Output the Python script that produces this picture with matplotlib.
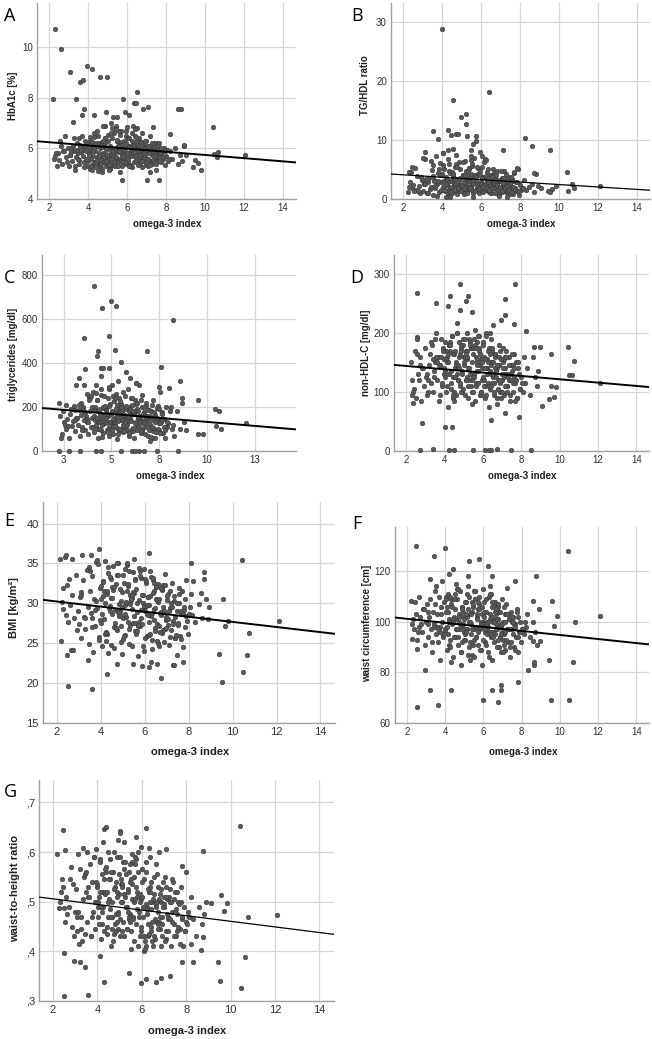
import numpy as np
import matplotlib.pyplot as plt

plt.rcParams['font.family'] = ['Liberation Sans', 'DejaVu Sans']

W, H = 652, 1039

# omega-3 index of the bulk of subjects (rows of ten)
omega3 = [
    2.25, 2.4, 2.45, 2.5, 2.6, 2.65, 2.7, 2.8, 2.85, 2.95,
    3.0, 3.05, 3.1, 3.2, 3.25, 3.3, 3.35, 3.4, 3.45, 3.5,
    3.55, 3.6, 3.65, 3.7, 3.75, 3.8, 3.85, 3.9, 3.95, 3.98,
    4.0, 4.05, 4.1, 4.15, 4.2, 4.25, 4.3, 4.35, 4.4, 4.45,
    4.02, 4.12, 4.22, 4.32, 4.5, 4.55, 4.6, 4.65, 4.7, 4.75,
    4.8, 4.85, 4.9, 4.95, 4.52, 4.62, 4.72, 4.82, 4.92, 4.98,
    5.0, 5.05, 5.1, 5.15, 5.2, 5.25, 5.3, 5.35, 5.4, 5.45,
    5.02, 5.12, 5.22, 5.32, 5.42, 5.5, 5.55, 5.6, 5.65, 5.7,
    5.75, 5.8, 5.85, 5.9, 5.95, 5.52, 5.62, 5.72, 5.82, 5.92,
    6.0, 6.05, 6.1, 6.15, 6.2, 6.25, 6.3, 6.35, 6.4, 6.45,
    6.02, 6.12, 6.22, 6.32, 6.42, 6.5, 6.55, 6.6, 6.65, 6.7,
    6.75, 6.8, 6.85, 6.9, 6.95, 6.52, 6.62, 6.72, 6.82, 6.92,
    7.0, 7.05, 7.1, 7.15, 7.2, 7.25, 7.3, 7.35, 7.4, 7.45,
    7.5, 7.55, 7.6, 7.65, 7.7, 7.75, 7.8, 7.85, 7.9, 7.95,
    4.08, 4.38, 4.68, 5.08, 5.38, 5.68, 6.08, 6.38, 6.68, 7.02,
    3.08, 3.58, 3.88, 4.28, 4.58, 4.88, 5.18, 5.48, 5.78, 5.98,
    6.18, 6.48, 6.78, 6.98, 7.18, 7.38, 7.58, 7.78, 8.0, 8.1,
    8.2, 8.3, 8.45, 8.6, 8.7, 8.8, 8.9, 2.35, 2.75, 3.15,
    4.18, 4.48, 4.78, 5.28, 5.58, 5.88, 6.28, 6.58, 6.88, 7.28,
    3.42, 3.72, 4.42, 4.88, 5.48, 6.18, 6.62, 7.08, 7.48, 8.05,
    2.3, 2.55, 2.9, 3.12, 3.28, 3.48, 3.62, 3.78, 3.93, 4.03,
    4.07, 4.13, 4.23, 4.33, 4.43, 4.47, 4.53, 4.63, 4.73, 4.83,
    4.87, 4.93, 4.97, 5.03, 5.07, 5.13, 5.17, 5.23, 5.27, 5.33,
    5.37, 5.43, 5.47, 5.53, 5.57, 5.63, 5.67, 5.73, 5.77, 5.83,
    5.87, 5.93, 5.97, 6.03, 6.07, 6.13, 6.17, 6.23, 6.27, 6.33,
    6.37, 6.43, 6.47, 6.53, 6.57, 6.63, 6.67, 6.73, 6.77, 6.83,
    6.87, 6.93, 6.97, 7.03, 7.07, 7.13, 7.17, 7.23, 7.27, 7.33,
    7.37, 7.43, 7.47, 7.53, 7.57, 7.63, 7.67, 7.73, 7.83, 7.93,
    3.52, 3.83, 4.27, 4.57, 4.77, 5.18, 5.58, 5.96, 6.36, 6.76,
    4.17, 4.67, 5.11, 5.41, 5.71, 6.11, 6.41, 6.71, 7.11, 8.15,
]

# A: HbA1c [%]
hba1c = [
    5.6, 5.3, 5.8, 5.55, 6.1, 5.4, 5.9, 6.5, 5.65, 6.0,
    5.3, 5.75, 6.0, 6.1, 5.9, 5.3, 5.65, 6.2, 5.8, 5.4,
    5.55, 6.15, 5.85, 6.5, 6.0, 5.45, 6.3, 5.9, 5.3, 6.1,
    5.5, 5.8, 6.3, 5.95, 5.35, 5.7, 6.6, 5.9, 6.1, 5.65,
    6.05, 5.6, 6.15, 5.45, 6.5, 5.4, 6.0, 5.55, 6.25, 5.8,
    5.45, 6.4, 5.95, 6.0, 6.2, 5.3, 5.2, 6.1, 5.3, 5.6,
    5.4, 5.75, 6.1, 5.9, 5.5, 5.7, 5.35, 5.85, 5.55, 5.95,
    6.3, 5.25, 6.4, 6.6, 6.9, 5.5, 5.45, 5.85, 5.6, 6.0,
    5.75, 5.5, 5.9, 5.65, 5.4, 6.1, 6.25, 5.3, 6.3, 6.5,
    5.8, 5.5, 6.1, 5.75, 5.95, 6.3, 5.85, 5.45, 5.7, 6.0,
    6.4, 5.35, 5.25, 6.15, 6.5, 5.9, 5.55, 5.8, 5.4, 6.0,
    6.6, 5.85, 5.5, 6.05, 5.35, 6.8, 6.2, 5.65, 6.2, 5.7,
    5.6, 5.3, 5.85, 5.5, 6.0, 5.75, 6.15, 5.9, 5.6, 6.0,
    5.75, 6.2, 5.5, 6.2, 5.7, 5.45, 5.85, 5.6, 6.0, 5.35,
    5.2, 5.45, 5.75, 5.6, 5.3, 6.7, 6.05, 6.15, 5.9, 6.1,
    5.75, 6.05, 5.6, 6.0, 5.3, 6.9, 7.0, 6.3, 5.55, 6.85,
    5.95, 6.3, 6.0, 6.3, 6.5, 6.2, 5.9, 5.85, 5.7, 5.5,
    5.9, 5.6, 6.0, 5.4, 5.75, 5.5, 6.1, 5.8, 5.9, 5.5,
    5.15, 5.1, 6.9, 5.8, 6.7, 6.0, 6.9, 5.65, 5.9, 5.4,
    5.95, 5.7, 5.25, 6.4, 6.3, 5.95, 6.4, 5.95, 5.65, 5.95,
    5.7, 6.3, 5.45, 5.85, 6.4, 5.6, 5.95, 5.25, 6.2, 5.75,
    6.45, 5.3, 5.9, 6.2, 5.55, 6.7, 5.8, 5.4, 6.05, 5.65,
    6.2, 5.5, 5.75, 6.55, 5.35, 6.05, 5.6, 6.8, 5.9, 5.45,
    6.0, 5.65, 6.35, 5.3, 5.9, 6.55, 5.5, 6.15, 5.7, 5.95,
    5.45, 6.2, 5.8, 5.6, 6.4, 5.3, 6.0, 5.7, 6.6, 5.85,
    6.1, 5.55, 6.45, 5.9, 5.35, 6.05, 5.75, 6.25, 5.5, 6.0,
    5.8, 6.3, 5.45, 5.95, 5.6, 6.1, 5.35, 5.85, 6.2, 5.55,
    6.05, 5.7, 5.4, 5.95, 6.1, 5.5, 5.8, 6.0, 5.65, 5.9,
    6.4, 6.1, 6.45, 5.7, 6.3, 6.6, 6.1, 6.7, 6.0, 5.25,
    6.25, 6.15, 5.2, 6.75, 5.45, 5.3, 6.75, 6.1, 5.8, 5.6,
]
hba1c_extra = [
    (2.29, 10.73), (2.58, 9.94), (3.04, 9.04), (3.95, 9.25), (4.17, 9.15),
    (4.6, 8.83), (4.94, 8.83), (3.57, 8.64), (3.74, 8.72), (2.17, 7.96),
    (3.35, 7.96), (5.76, 7.96), (6.51, 8.23), (6.36, 7.8), (6.44, 7.8),
    (3.78, 7.56), (7.09, 7.64), (6.82, 7.54), (8.62, 7.54), (8.75, 7.54),
    (3.66, 7.34), (4.27, 7.34), (3.23, 7.03), (4.9, 7.44), (5.28, 7.25),
    (5.49, 7.25), (5.88, 7.44), (6.09, 7.34), (8.22, 6.56), (10.38, 6.85),
    (7.3, 6.85), (12.03, 5.74), (10.67, 5.85), (10.62, 5.66), (10.46, 5.77),
    (9.37, 5.27), (9.47, 5.53), (9.64, 5.42), (9.78, 5.13), (9.04, 5.75),
    (8.92, 6.15), (5.73, 4.75), (6.99, 4.75), (7.62, 4.75), (5.64, 5.06),
    (4.7, 5.06), (5.04, 5.16), (7.16, 5.06), (7.47, 5.16), (3.33, 5.16),
]
hba1c_fit = (6.37, -0.063)

# B: TG/HDL ratio
tg_hdl = [
    1.2, 4.6, 1.8, 2.4, 5.3, 1.5, 3.9, 2.2, 1.0, 3.2,
    1.4, 2.6, 6.8, 1.1, 2.9, 3.5, 1.7, 6.4, 2.1, 5.8,
    0.6, 3.3, 1.9, 7.2, 2.6, 4.4, 1.2, 6.1, 2.8, 1.6,
    4.2, 2.0, 5.1, 1.3, 3.7, 2.4, 0.5, 4.8, 1.8, 3.1,
    7.8, 1.6, 2.9, 6.7, 1.1, 3.8, 2.3, 5.5, 1.4, 0.8,
    3.4, 6.2, 2.0, 1.3, 4.6, 2.7, 5.9, 1.7, 3.6, 2.2,
    1.5, 4.1, 2.6, 6.5, 1.0, 3.3, 2.0, 5.2, 1.8, 3.9,
    2.4, 0.9, 4.7, 1.6, 3.0, 2.2, 5.6, 1.3, 7.0, 2.8,
    3.6, 1.9, 4.3, 1.1, 2.5, 6.0, 3.1, 1.5, 5.2, 2.0,
    2.9, 1.4, 3.8, 2.2, 6.8, 1.7, 4.5, 2.6, 1.2, 3.3,
    5.4, 2.0, 1.5, 3.1, 2.4, 1.0, 4.0, 2.7, 1.8, 3.6,
    2.3, 4.8, 1.6, 3.0, 1.2, 2.1, 5.0, 1.9, 2.8, 0.7,
    1.8, 3.5, 2.4, 4.7, 1.3, 2.9, 1.0, 3.8, 2.0, 1.5,
    2.6, 1.2, 3.4, 0.8, 4.4, 1.9, 2.8, 1.4, 5.1, 0.6,
    3.0, 4.4, 2.2, 3.9, 5.0, 3.2, 2.5, 4.1, 3.4, 2.1,
    2.7, 3.1, 4.0, 1.0, 3.5, 2.3, 1.7, 4.3, 2.6, 1.9,
    3.7, 1.1, 2.5, 1.7, 2.2, 0.9, 3.1, 1.6, 2.4, 1.8,
    3.2, 1.5, 2.0, 2.6, 1.2, 4.3, 2.2, 2.8, 1.3, 3.4,
    0.4, 1.9, 2.3, 3.7, 1.1, 2.5, 1.9, 3.0, 0.9, 2.4,
    2.1, 0.5, 1.4, 3.3, 2.2, 1.5, 2.7, 1.2, 0.8, 1.6,
    2.0, 1.3, 3.7, 2.5, 1.1, 4.9, 2.2, 3.0, 1.6, 5.7,
    2.8, 1.5, 3.4, 6.0, 2.0, 1.2, 4.2, 2.6, 7.4, 1.8,
    3.3, 5.0, 1.4, 2.3, 6.3, 1.9, 3.6, 2.7, 1.0, 4.5,
    2.1, 3.0, 6.6, 1.6, 2.5, 4.0, 1.3, 3.2, 5.5, 2.0,
    1.7, 4.1, 2.6, 3.5, 1.2, 6.2, 2.3, 1.8, 3.9, 2.9,
    5.1, 1.4, 2.2, 3.7, 1.9, 2.7, 4.4, 1.1, 3.0, 2.4,
    1.6, 3.3, 2.0, 4.8, 1.3, 2.6, 3.6, 1.8, 4.2, 2.2,
    3.0, 1.5, 2.5, 3.8, 1.2, 2.1, 4.5, 1.7, 2.9, 1.4,
    3.9, 5.1, 2.8, 4.3, 5.4, 4.0, 3.3, 4.7, 3.6, 4.1,
    2.6, 3.4, 2.8, 1.9, 3.7, 2.0, 1.5, 3.3, 2.7, 1.8,
]
tg_hdl_extra = [
    (4.01, 28.8), (6.4, 18.05), (4.53, 16.7), (5.24, 14.35), (5.21, 12.77),
    (4.95, 13.95), (3.54, 11.47), (3.77, 10.17), (4.3, 11.75), (4.44, 10.9),
    (4.73, 11.07), (4.83, 10.95), (5.29, 10.62), (5.75, 10.62), (5.72, 9.77),
    (5.58, 9.38), (8.23, 10.34), (8.59, 8.93), (9.54, 8.36), (7.14, 8.36),
    (3.13, 7.97), (3.02, 6.89), (4.05, 7.8), (4.27, 8.25), (4.53, 8.47),
    (5.5, 8.25), (5.48, 7.23), (5.92, 7.9), (6.06, 7.23), (6.23, 6.55),
    (10.4, 4.63), (10.45, 1.36), (10.67, 2.54), (10.74, 1.86), (12.09, 2.2),
    (9.82, 2.15), (9.65, 1.7), (9.44, 1.3), (9.51, 1.19), (9.05, 1.9),
    (8.69, 4.41), (2.31, 4.58), (2.44, 5.42), (7.85, 5.25), (4.4, 0.3),
    (5.6, 0.4), (7.3, 0.35), (6.9, 0.5),
]
tg_hdl_fit = (4.51, -0.206)

# C: triglycerides [mg/dl]
trig = [
    220, 75, 180, 130, 100, 210, 145, 60, 170, 115,
    135, 205, 90, 150, 120, 185, 70, 165, 110, 200,
    300, 95, 160, 260, 130, 75, 245, 180, 110, 200,
    150, 270, 85, 190, 120, 230, 60, 175, 140, 255,
    110, 200, 300, 135, 165, 80, 250, 125, 190, 95,
    160, 280, 110, 215, 65, 140, 185, 240, 100, 170,
    130, 180, 75, 225, 150, 260, 105, 195, 90, 170,
    300, 120, 175, 55, 240, 145, 200, 85, 160, 110,
    190, 135, 280, 70, 165, 215, 120, 250, 95, 180,
    145, 205, 100, 170, 60, 230, 130, 190, 115, 160,
    240, 90, 180, 120, 300, 150, 80, 200, 135, 175,
    110, 220, 155, 70, 185, 130, 95, 165, 205, 140,
    120, 180, 60, 150, 230, 100, 165, 85, 140, 205,
    95, 270, 130, 175, 80, 145, 60, 200, 110, 125,
    160, 130, 200, 115, 175, 90, 210, 150, 125, 45,
    185, 140, 240, 100, 160, 290, 125, 200, 150, 85,
    170, 105, 130, 155, 90, 195, 140, 110, 285, 200,
    120, 70, 180, 100, 240, 130, 95, 60, 115, 150,
    265, 95, 130, 210, 175, 135, 310, 100, 160, 60,
    220, 145, 190, 70, 100, 170, 255, 65, 125, 180,
    160, 120, 190, 140, 210, 95, 175, 130, 250, 105,
    185, 140, 230, 100, 165, 280, 120, 195, 150, 85,
    205, 130, 170, 95, 250, 145, 115, 190, 160, 75,
    135, 225, 100, 180, 140, 270, 90, 165, 205, 120,
    155, 80, 190, 135, 240, 105, 175, 125, 215, 95,
    180, 110, 150, 230, 90, 170, 130, 200, 75, 155,
    120, 185, 95, 160, 140, 210, 105, 175, 130, 85,
    150, 100, 190, 125, 80, 170, 140, 110, 95, 130,
    185, 230, 150, 200, 170, 240, 140, 190, 220, 160,
    120, 205, 145, 170, 130, 180, 155, 125, 110, 100,
]
trig_extra = [
    (4.07, 750), (4.97, 680), (4.52, 650), (5.25, 659), (8.2, 595),
    (3.58, 515), (4.85, 524), (4.31, 456), (4.27, 433), (5.21, 459),
    (6.88, 452), (5.49, 406), (7.61, 383), (3.6, 374), (4.45, 377),
    (4.55, 377), (4.9, 377), (5.77, 360), (8.59, 320), (9.54, 232),
    (10.41, 192), (10.64, 183), (12.07, 126), (10.45, 114), (10.71, 100),
    (9.51, 76), (9.8, 76), (8.67, 220), (3.28, 333), (3.16, 300),
    (4.45, 340), (5.35, 320), (6.0, 330), (6.3, 310), (7.5, 290),
    (2.24, 0), (2.76, 0), (3.37, 0), (4.2, 0), (4.45, 0), (5.49, 0),
    (6.07, 0), (6.24, 0), (6.42, 0), (6.71, 0), (7.37, 0), (8.5, 0),
]
trig_fit = (205.0, -7.29)

# D: non-HDL-C [mg/dl]
nonhdl = [
    150, 105, 170, 90, 130, 120, 160, 85, 140, 110,
    175, 125, 95, 145, 165, 115, 180, 100, 135, 150,
    200, 120, 160, 85, 145, 190, 110, 175, 130, 155,
    140, 185, 100, 160, 75, 130, 170, 115, 195, 90,
    125, 150, 180, 105, 165, 140, 95, 200, 120, 160,
    110, 175, 135, 190, 85, 150, 120, 165, 100, 180,
    145, 95, 170, 125, 155, 110, 190, 130, 175, 80,
    160, 120, 140, 185, 100, 165, 130, 205, 115, 150,
    135, 175, 95, 155, 120, 190, 110, 145, 170, 100,
    125, 160, 90, 200, 140, 115, 175, 105, 150, 130,
    185, 110, 155, 75, 145, 170, 125, 95, 160, 135,
    140, 120, 180, 100, 155, 130, 165, 90, 145, 115,
    120, 150, 95, 140, 170, 110, 130, 160, 85, 145,
    135, 100, 125, 165, 115, 150, 90, 140, 130, 105,
    170, 195, 140, 160, 175, 185, 110, 200, 135, 100,
    130, 160, 115, 185, 145, 100, 170, 125, 195, 155,
    140, 175, 105, 130, 160, 120, 145, 90, 125, 100,
    115, 140, 95, 160, 125, 110, 135, 100, 145, 120,
    165, 100, 140, 120, 180, 95, 150, 115, 170, 110,
    155, 145, 125, 180, 100, 195, 140, 155, 120, 115,
    120, 165, 140, 100, 185, 125, 150, 95, 170, 135,
    155, 110, 180, 135, 95, 165, 125, 200, 145, 115,
    170, 130, 105, 150, 190, 120, 160, 90, 140, 180,
    110, 150, 175, 125, 85, 160, 135, 195, 115, 145,
    165, 100, 140, 180, 120, 155, 95, 130, 170, 110,
    135, 190, 115, 150, 100, 165, 125, 80, 145, 160,
    120, 155, 90, 140, 175, 110, 130, 160, 100, 125,
    145, 95, 130, 165, 115, 140, 85, 120, 150, 105,
    190, 160, 180, 170, 185, 200, 175, 150, 165, 145,
    150, 130, 165, 120, 155, 140, 110, 135, 125, 160,
]
nonhdl_extra = [
    (2.57, 268), (4.83, 283), (7.7, 283), (4.31, 262), (5.22, 263),
    (5.11, 254), (3.57, 251), (4.21, 245), (7.17, 258), (7.17, 231),
    (6.96, 222), (4.8, 238), (5.46, 236), (4.66, 216), (7.65, 215),
    (6.52, 213), (2.56, 193), (2.56, 189), (10.43, 176), (10.77, 153),
    (10.49, 129), (10.66, 129), (12.09, 116), (9.53, 165), (9.57, 110),
    (9.83, 108), (9.7, 92), (9.1, 77), (9.44, 88), (8.96, 177),
    (8.66, 176), (2.82, 47), (4.03, 40), (4.38, 40), (6.43, 53),
    (7.88, 58), (7.13, 64), (2.75, 2), (3.39, 3), (4.23, 2),
    (4.49, 2), (5.51, 1), (6.09, 1), (6.3, 2), (6.43, 2),
    (6.73, 3), (7.48, 1), (8.52, 2), (2.3, 95), (2.35, 81), (8.26, 203),
]
nonhdl_fit = (149.7, -2.82)

# E: BMI [kg/m2]
bmi = [
    30.2, 28.5, 32.3, 27.6, 29.8, 24.2, 31.0, 28.2, 33.5, 29.0,
    27.4, 30.8, 25.6, 32.9, 28.3, 26.8, 34.2, 29.6, 24.9, 31.5,
    28.8, 33.4, 23.9, 30.6, 27.2, 35.2, 29.4, 25.8, 31.9, 27.9,
    30.5, 24.6, 32.8, 28.0, 35.3, 26.4, 31.2, 23.8, 29.7, 33.1,
    27.5, 30.9, 25.3, 34.6, 28.6, 31.7, 24.4, 29.2, 32.4, 26.7,
    35.0, 28.4, 30.3, 23.6, 32.0, 27.0, 33.6, 29.9, 25.1, 31.4,
    28.2, 32.6, 26.0, 30.1, 34.8, 27.7, 24.9, 31.1, 29.3, 33.9,
    25.5, 29.8, 32.2, 27.3, 30.7, 35.6, 26.5, 31.8, 28.9, 23.4,
    30.4, 27.1, 33.2, 24.7, 29.5, 31.3, 26.2, 34.4, 28.1, 30.0,
    29.1, 32.5, 25.9, 30.8, 27.6, 34.1, 28.4, 24.3, 31.6, 26.9,
    33.0, 28.7, 30.9, 25.4, 29.3, 32.1, 27.4, 30.2, 24.6, 28.8,
    31.9, 26.3, 29.6, 33.7, 27.9, 30.6, 25.0, 28.5, 32.3, 26.8,
    28.0, 31.2, 24.8, 29.4, 26.6, 32.6, 27.8, 30.3, 25.7, 29.0,
    27.3, 30.0, 25.9, 28.7, 31.6, 24.5, 29.2, 27.0, 28.4, 26.1,
    32.7, 29.4, 26.9, 34.3, 30.4, 27.1, 29.7, 32.9, 26.4, 30.9,
    31.0, 28.1, 34.9, 26.2, 32.1, 29.1, 31.5, 27.5, 33.4, 24.0,
    29.8, 26.5, 31.7, 28.3, 30.1, 25.6, 31.9, 29.5, 28.6, 31.2,
    32.8, 27.6, 29.9, 28.2, 33.0, 30.6, 28.0, 35.8, 24.2, 36.1,
    26.1, 30.7, 28.9, 34.0, 27.5, 31.1, 22.7, 30.4, 25.2, 22.3,
    22.9, 29.2, 33.3, 28.5, 22.4, 26.0, 32.4, 27.3, 23.5, 29.6,
    29.3, 33.0, 26.7, 31.4, 28.1, 34.5, 27.0, 30.3, 25.4, 32.2,
    28.6, 31.5, 26.3, 33.8, 29.0, 24.8, 30.7, 27.5, 35.1, 28.9,
    31.8, 27.2, 29.5, 33.5, 25.9, 30.2, 28.3, 32.4, 26.8, 29.9,
    30.6, 24.7, 31.4, 28.4, 33.1, 26.5, 30.0, 27.7, 34.0, 29.2,
    27.4, 31.0, 29.7, 25.6, 32.8, 28.5, 30.8, 26.2, 33.3, 28.8,
    31.3, 27.9, 29.4, 32.0, 25.3, 30.5, 27.2, 28.9, 31.8, 26.6,
    29.0, 32.3, 26.9, 30.4, 28.0, 31.5, 25.8, 29.6, 27.4, 30.9,
    28.3, 26.0, 30.1, 27.5, 31.2, 29.0, 25.5, 28.7, 30.5, 27.8,
    34.0, 35.4, 31.6, 34.7, 33.6, 35.0, 32.9, 34.3, 33.2, 31.9,
    30.0, 26.9, 28.6, 31.1, 27.3, 29.8, 32.5, 26.4, 29.1, 28.5,
]
bmi_extra = [
    (12.1, 27.8), (10.43, 35.47), (10.74, 26.24), (10.66, 23.55), (10.48, 21.4),
    (9.52, 20.1), (9.4, 23.7), (9.67, 27.2), (9.81, 27.8), (9.55, 30.5),
    (8.93, 29.6), (8.72, 33.9), (8.55, 31.3), (8.11, 35.0), (7.9, 32.9),
    (2.15, 35.5), (2.41, 36.0), (2.68, 35.6), (2.27, 31.9), (2.2, 25.3),
    (2.47, 23.55), (2.49, 19.65), (3.6, 19.25), (4.28, 21.2), (6.74, 20.6),
    (3.57, 36.1), (3.93, 36.8), (6.18, 36.3), (4.74, 22.4), (5.88, 22.1),
    (6.18, 22.0), (6.56, 22.4), (7.32, 22.3), (7.74, 22.6),
]
bmi_fit = (30.87, -0.32)

# F: waist circumference [cm]
waist = [
    99, 108, 103, 93, 110, 98, 102, 96, 105, 91,
    100, 107, 94, 109, 97, 88, 104, 99, 112, 95,
    103, 92, 110, 98, 85, 106, 100, 94, 108, 97,
    96, 104, 89, 111, 101, 93, 107, 99, 86, 102,
    110, 95, 100, 84, 105, 97, 113, 91, 103, 99,
    88, 106, 98, 102, 94, 109, 100, 83, 104, 96,
    101, 93, 108, 97, 114, 90, 103, 99, 87, 106,
    95, 111, 100, 92, 104, 86, 109, 98, 102, 91,
    107, 97, 89, 103, 100, 112, 94, 105, 98, 83,
    99, 108, 92, 104, 96, 88, 110, 101, 94, 106,
    102, 91, 98, 114, 85, 100, 107, 95, 103, 97,
    93, 104, 99, 88, 109, 96, 101, 106, 90, 98,
    100, 95, 103, 89, 107, 97, 92, 101, 86, 104,
    97, 102, 90, 99, 94, 105, 88, 96, 100, 92,
    106, 100, 113, 97, 108, 103, 96, 111, 99, 93,
    104, 98, 95, 109, 101, 92, 105, 97, 110, 99,
    100, 94, 106, 96, 103, 90, 99, 102, 97, 95,
    98, 103, 94, 100, 96, 91, 105, 97, 99, 102,
    91, 109, 97, 85, 112, 100, 96, 108, 94, 103,
    98, 96, 101, 106, 93, 99, 104, 91, 100, 97,
    101, 96, 105, 99, 92, 107, 97, 103, 95, 109,
    98, 104, 90, 106, 100, 94, 111, 97, 102, 88,
    105, 99, 93, 108, 96, 102, 87, 110, 100, 95,
    103, 91, 107, 98, 112, 94, 101, 96, 105, 89,
    99, 106, 93, 104, 97, 109, 95, 100, 86, 103,
    96, 102, 108, 92, 100, 97, 105, 90, 101, 98,
    104, 95, 99, 88, 106, 100, 93, 103, 97, 101,
    97, 92, 102, 95, 100, 89, 98, 104, 94, 96,
    114, 116, 110, 115, 112, 118, 109, 113, 111, 107,
    100, 94, 103, 97, 108, 99, 95, 101, 96, 100,
]
waist_extra = [
    (2.47, 130), (3.97, 129.1), (3.39, 126), (10.43, 128), (12.09, 102.2),
    (10.77, 100.1), (10.68, 84), (10.49, 69.2), (9.55, 69.2), (9.83, 102.2),
    (9.57, 108.2), (9.43, 85), (9.69, 98.3), (2.54, 66.2), (3.63, 67.3),
    (3.22, 73.2), (4.31, 73.2), (5.98, 69.2), (6.43, 73.2), (6.75, 68.3),
    (6.9, 73.2), (6.9, 75.2), (8.33, 81.1), (7.79, 76.2), (8.64, 83.1),
    (8.64, 84.1), (8.57, 92.3), (8.96, 92.3), (2.26, 93.1), (2.52, 89.2),
    (2.23, 108.3), (2.96, 81.1), (3.2, 117.1), (5.25, 124), (5.77, 125),
    (6.23, 122), (4.42, 121), (4.21, 119.1), (6.47, 118), (8.77, 118),
    (7.65, 116.1), (7.22, 113.2), (8.59, 108.2),
]
waist_fit = (102.8, -0.80)

# G: waist-to-height ratio
whtr = [
    0.488, 0.545, 0.53, 0.487, 0.51, 0.475, 0.49, 0.57, 0.45, 0.43,
    0.48, 0.525, 0.44, 0.565, 0.47, 0.42, 0.505, 0.55, 0.435, 0.52,
    0.46, 0.51, 0.575, 0.43, 0.54, 0.48, 0.59, 0.445, 0.5, 0.53,
    0.535, 0.47, 0.58, 0.425, 0.555, 0.49, 0.44, 0.515, 0.57, 0.45,
    0.5, 0.585, 0.455, 0.52, 0.47, 0.545, 0.41, 0.5, 0.56, 0.435,
    0.53, 0.475, 0.59, 0.445, 0.505, 0.56, 0.42, 0.54, 0.48, 0.515,
    0.465, 0.545, 0.5, 0.58, 0.43, 0.51, 0.555, 0.445, 0.525, 0.475,
    0.59, 0.44, 0.515, 0.49, 0.56, 0.405, 0.535, 0.47, 0.5, 0.575,
    0.455, 0.52, 0.6, 0.43, 0.505, 0.545, 0.465, 0.585, 0.41, 0.5,
    0.51, 0.47, 0.545, 0.42, 0.58, 0.49, 0.455, 0.53, 0.44, 0.5,
    0.565, 0.4, 0.485, 0.52, 0.45, 0.505, 0.55, 0.425, 0.495, 0.46,
    0.53, 0.445, 0.5, 0.47, 0.54, 0.41, 0.575, 0.48, 0.515, 0.43,
    0.49, 0.55, 0.44, 0.505, 0.465, 0.525, 0.41, 0.48, 0.54, 0.455,
    0.52, 0.43, 0.475, 0.5, 0.445, 0.53, 0.465, 0.41, 0.49, 0.44,
    0.51, 0.56, 0.47, 0.535, 0.48, 0.59, 0.43, 0.52, 0.46, 0.495,
    0.47, 0.53, 0.5, 0.545, 0.485, 0.52, 0.565, 0.46, 0.51, 0.44,
    0.495, 0.42, 0.46, 0.51, 0.47, 0.545, 0.44, 0.5, 0.46, 0.48,
    0.51, 0.465, 0.43, 0.49, 0.455, 0.475, 0.5, 0.52, 0.545, 0.415,
    0.52, 0.6, 0.455, 0.49, 0.58, 0.48, 0.43, 0.465, 0.41, 0.5,
    0.555, 0.43, 0.52, 0.46, 0.54, 0.41, 0.5, 0.425, 0.48, 0.455,
    0.5, 0.46, 0.535, 0.48, 0.445, 0.56, 0.51, 0.47, 0.54, 0.49,
    0.455, 0.52, 0.48, 0.565, 0.435, 0.5, 0.545, 0.47, 0.525, 0.44,
    0.51, 0.475, 0.555, 0.43, 0.5, 0.535, 0.46, 0.58, 0.49, 0.445,
    0.52, 0.465, 0.575, 0.44, 0.505, 0.55, 0.42, 0.53, 0.485, 0.56,
    0.47, 0.515, 0.45, 0.54, 0.49, 0.405, 0.56, 0.475, 0.525, 0.435,
    0.5, 0.54, 0.46, 0.515, 0.43, 0.49, 0.555, 0.445, 0.505, 0.47,
    0.525, 0.455, 0.49, 0.42, 0.53, 0.475, 0.44, 0.51, 0.465, 0.5,
    0.46, 0.505, 0.43, 0.485, 0.52, 0.45, 0.495, 0.415, 0.47, 0.44,
    0.6, 0.59, 0.62, 0.585, 0.6, 0.62, 0.595, 0.61, 0.59, 0.6,
    0.49, 0.445, 0.53, 0.47, 0.505, 0.43, 0.485, 0.455, 0.51, 0.47,
]
whtr_extra = [
    (10.43, 0.652), (10.49, 0.327), (10.66, 0.388), (10.77, 0.469), (12.09, 0.473),
    (9.52, 0.341), (9.44, 0.378), (9.7, 0.481), (9.85, 0.497), (9.55, 0.513),
    (9.1, 0.497), (8.77, 0.603), (7.97, 0.559), (7.8, 0.572), (2.5, 0.31),
    (3.59, 0.313), (4.3, 0.339), (5.95, 0.336), (6.21, 0.344), (6.66, 0.339),
    (6.86, 0.346), (7.26, 0.35), (5.43, 0.356), (3.44, 0.368), (2.93, 0.38),
    (3.2, 0.378), (2.5, 0.397), (4.14, 0.39), (8.32, 0.378), (7.79, 0.378),
    (8.21, 0.415), (8.66, 0.403), (8.74, 0.428), (2.45, 0.644), (4.29, 0.647),
    (4.41, 0.65), (5.04, 0.642), (5.04, 0.639), (6.18, 0.649), (5.76, 0.631),
    (4.93, 0.624), (3.37, 0.609), (3.92, 0.607), (2.56, 0.605), (2.2, 0.596),
    (3.14, 0.595), (6.33, 0.608), (7.11, 0.606),
]
whtr_fit = (0.517, -0.00565)

x_ticks = [2, 4, 6, 8, 10, 12, 14]
c_x_ticks = [2.5, 5, 7.5, 10, 12.5]
c_x_labels = ['3', '5', '8', '10', '13']
x_range = (1.37, 14.66)

fig = plt.figure(figsize=(W / 100, H / 100), dpi=100)


def px_text(x, y, s, **kw):
    fig.text(x / W, 1 - y / H, s, ha='center', va='center', **kw)


def panel(box, letter, letter_xy, ylabel, ylabel_xy, xlabel_y, yvals, extra,
          fit, ylim, yticks, ylabels=None, xticks=x_ticks, xlabels=None,
          fs=7, fit_lw=1.4):
    l, t, r, b = box
    ax = fig.add_axes([l / W, 1 - b / H, (r - l) / W, (b - t) / H])
    ex = np.array(extra, dtype=float)
    xs = np.concatenate([np.array(omega3), ex[:, 0]])
    ys = np.concatenate([np.array(yvals, dtype=float), ex[:, 1]])
    ax.scatter(xs, ys, s=11, c='#595959', edgecolors='#3a3a3a',
               linewidths=0.4, zorder=3, clip_on=False)
    ax.set_xlim(*x_range)
    ax.set_ylim(*ylim)
    xl = np.array(x_range)
    ax.plot(xl, fit[0] + fit[1] * xl, color='black', lw=fit_lw, zorder=4)
    ax.set_xticks(xticks)
    ax.set_yticks(yticks)
    if xlabels is not None:
        ax.set_xticklabels(xlabels)
    if ylabels is not None:
        ax.set_yticklabels(ylabels)
    ax.grid(color='#d6d6d6', lw=0.9)
    ax.set_axisbelow(True)
    for s in ('top', 'right'):
        ax.spines[s].set_visible(False)
    for s in ('left', 'bottom'):
        ax.spines[s].set_color('#a0a0a0')
        ax.spines[s].set_linewidth(1.0)
    ax.tick_params(length=0, labelsize=fs, colors='#303030', pad=3)
    px_text(letter_xy[0], letter_xy[1], letter, fontsize=13,
            family=['Open Sans', 'DejaVu Sans'])
    px_text(ylabel_xy[0], ylabel_xy[1], ylabel, rotation=90,
            fontsize=fs, fontweight='bold', color='#202020')
    px_text((l + r) / 2 + 1, xlabel_y, 'omega-3 index',
            fontsize=fs, fontweight='bold', color='#202020')
    return ax


panel((37, 3, 296, 199), 'A', (10, 16), 'HbA1c [%]', (13, 96), 224,
      hba1c, hba1c_extra, hba1c_fit, (4, 11.75), [4, 6, 8, 10])
panel((391, 3, 650, 199), 'B', (357, 16), 'TG/HDL ratio', (365, 85), 224,
      tg_hdl, tg_hdl_extra, tg_hdl_fit, (0, 33.2), [0, 10, 20, 30],
      fit_lw=0.9)
panel((42, 255, 296, 451), 'C', (10, 278), 'triglycerides [mg/dl]', (13, 354),
      476, trig, trig_extra, trig_fit, (0, 890), [0, 200, 400, 600, 800],
      xticks=c_x_ticks, xlabels=c_x_labels)
panel((394, 255, 649, 451), 'D', (357, 278), 'non-HDL-C [mg/dl]', (366, 353),
      476, nonhdl, nonhdl_extra, nonhdl_fit, (0, 332), [0, 100, 200, 300])
panel((43, 502, 335, 723), 'E', (9, 521), 'BMI [kg/m²]', (14, 608), 752,
      bmi, bmi_extra, bmi_fit, (15, 42.7), [15, 20, 25, 30, 35, 40], fs=8)
panel((395, 527, 649, 723), 'F', (357, 524), 'waist circumference [cm]',
      (367, 623), 752, waist, waist_extra, waist_fit, (60, 137.5),
      [60, 80, 100, 120])
panel((39, 780, 334, 1001), 'G', (10, 792), 'waist-to-height ratio', (15, 888),
      1031, whtr, whtr_extra, whtr_fit, (0.3, 0.745),
      [0.3, 0.4, 0.5, 0.6, 0.7], ylabels=[',3', ',4', ',5', ',6', ',7'],
      fs=8, fit_lw=0.9)

fig.savefig('out.png', dpi=100)
